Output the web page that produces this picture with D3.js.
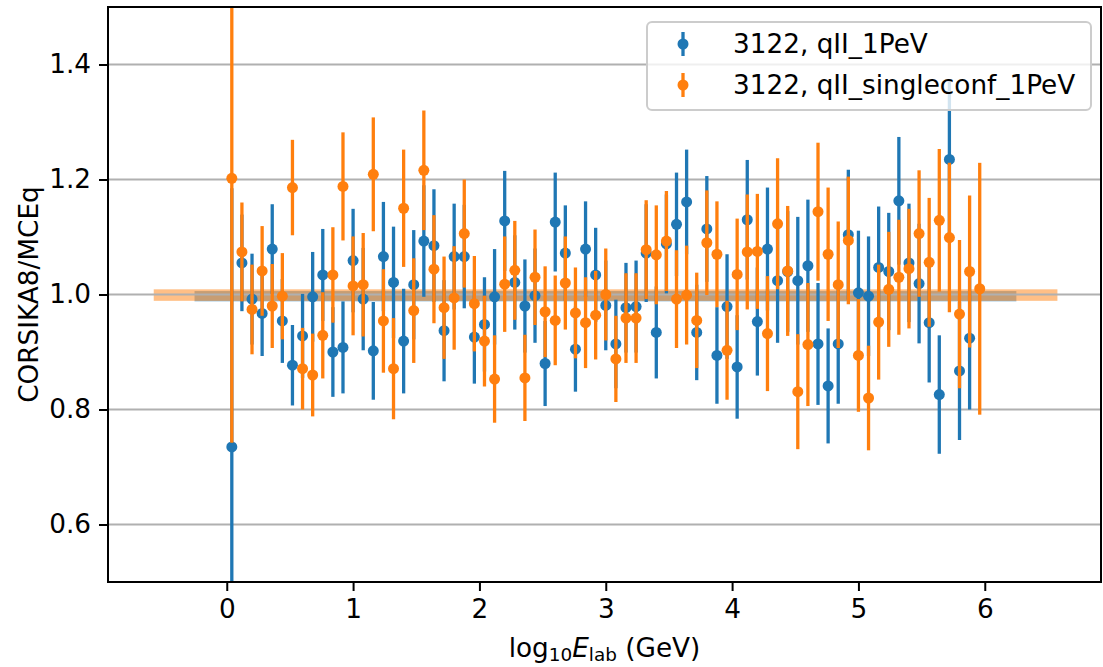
<!DOCTYPE html>
<html><head><meta charset="utf-8">
<script src="https://cdn.jsdelivr.net/npm/d3@7/dist/d3.min.js"></script>
<style>body{margin:0;background:#fff}svg text{font-family:"DejaVu Sans",sans-serif}</style>
</head><body><svg id="c" width="1103" height="667"></svg>
<script>
const xCenters = [0.04,0.12,0.20,0.28,0.36,0.44,0.52,0.60,0.68,0.76,0.84,0.92,1.00,1.08,1.16,1.24,1.32,1.40,1.48,1.56,1.64,1.72,1.80,1.88,1.96,2.04,2.12,2.20,2.28,2.36,2.44,2.52,2.60,2.68,2.76,2.84,2.92,3.00,3.08,3.16,3.24,3.32,3.40,3.48,3.56,3.64,3.72,3.80,3.88,3.96,4.04,4.12,4.20,4.28,4.36,4.44,4.52,4.60,4.68,4.76,4.84,4.92,5.00,5.08,5.16,5.24,5.32,5.40,5.48,5.56,5.64,5.72,5.80,5.88,5.96];
const blueVals = [0.735,1.055,0.992,0.967,1.079,0.954,0.877,0.928,0.996,1.034,0.900,0.908,1.059,0.992,0.902,1.066,1.021,0.919,1.017,1.093,1.085,0.937,1.066,1.066,0.926,0.948,0.996,1.128,1.021,0.980,0.998,0.880,1.126,1.072,0.905,1.079,1.034,0.981,0.914,0.977,0.979,1.072,0.934,1.088,1.122,1.161,0.934,1.114,0.894,0.979,0.874,1.130,0.953,1.079,1.024,1.040,1.024,1.050,0.914,0.841,0.914,1.104,1.003,0.997,1.047,1.040,1.163,1.055,1.019,0.951,0.826,1.235,0.867,0.924];
const blueErrs = [0.450,0.084,0.079,0.074,0.078,0.073,0.070,0.073,0.078,0.080,0.078,0.080,0.090,0.089,0.085,0.095,0.097,0.091,0.095,0.097,0.098,0.088,0.092,0.090,0.081,0.082,0.083,0.087,0.082,0.081,0.082,0.074,0.086,0.083,0.074,0.083,0.082,0.078,0.077,0.078,0.080,0.085,0.080,0.086,0.090,0.091,0.083,0.092,0.084,0.091,0.090,0.104,0.094,0.107,0.108,0.105,0.111,0.115,0.106,0.100,0.104,0.113,0.108,0.104,0.106,0.102,0.111,0.103,0.104,0.104,0.103,0.136,0.120,0.124];
const orangeVals = [1.202,1.074,0.974,1.041,0.980,0.997,1.186,0.871,0.860,0.929,1.034,1.188,1.015,1.017,1.209,0.954,0.871,1.150,0.972,1.216,1.044,0.977,0.994,1.106,0.984,0.919,0.853,1.018,1.042,0.855,1.030,0.970,0.955,1.020,0.968,0.951,0.964,1.000,0.888,0.959,0.959,1.078,1.069,1.093,0.992,0.999,0.955,1.090,1.070,0.903,1.035,1.074,1.075,0.932,1.123,1.041,0.831,0.913,1.144,1.070,1.017,1.094,0.894,0.820,0.952,1.009,1.030,1.045,1.106,1.056,1.129,1.099,0.966,1.040,1.010];
const orangeErrs = [0.460,0.086,0.078,0.078,0.073,0.075,0.083,0.071,0.072,0.075,0.083,0.094,0.086,0.090,0.099,0.090,0.088,0.102,0.091,0.104,0.094,0.089,0.090,0.094,0.083,0.079,0.076,0.083,0.086,0.075,0.083,0.079,0.078,0.081,0.079,0.079,0.077,0.080,0.075,0.078,0.078,0.086,0.086,0.087,0.085,0.086,0.083,0.091,0.092,0.086,0.097,0.100,0.100,0.100,0.114,0.113,0.100,0.107,0.120,0.116,0.110,0.111,0.098,0.091,0.100,0.100,0.100,0.104,0.110,0.112,0.124,0.130,0.129,0.132,0.219];
// reference bands: [xStart, xEnd, yLow, yHigh]
const blueBand = [-0.255, 6.25, 0.988, 1.006];
const orangeBand = [-0.578, 6.575, 0.989, 1.009];
const xTicks = [0,1,2,3,4,5,6];
const yTicks = [0.6,0.8,1.0,1.2,1.4];
const seriesNames = ["3122, qII_1PeV", "3122, qII_singleconf_1PeV"];
const colors = ["#1f77b4", "#ff7f0e"];

const L = 108, R = 1101, T = 7, B = 582;
const svg = d3.select("#c");
const x = d3.scaleLinear().domain([-0.94, 6.92]).range([L, R]);
const y = d3.scaleLinear().domain([0.5, 1.5]).range([B, T]);

svg.append("defs").append("clipPath").attr("id","clip")
  .append("rect").attr("x",L).attr("y",T).attr("width",R-L).attr("height",B-T);

const plot = svg.append("g").attr("clip-path","url(#clip)");
// bands
[[blueBand, colors[0]], [orangeBand, colors[1]]].forEach(([b, c]) => {
  plot.append("rect").attr("x", x(b[0])).attr("width", x(b[1]) - x(b[0]))
    .attr("y", y(b[3])).attr("height", y(b[2]) - y(b[3]))
    .attr("fill", c).attr("opacity", 0.5);
});
// grid
plot.selectAll(".grid").data(yTicks).join("line")
  .attr("x1", L).attr("x2", R).attr("y1", d => y(d)).attr("y2", d => y(d))
  .attr("stroke", "#b0b0b0").attr("stroke-width", 2);

function drawSeries(vals, errs, color) {
  const g = plot.append("g");
  const data = vals.map((v, i) => ({x: xCenters[i], v, e: errs[i]}));
  g.selectAll("line").data(data).join("line")
    .attr("x1", d => x(d.x)).attr("x2", d => x(d.x))
    .attr("y1", d => y(d.v - d.e)).attr("y2", d => y(d.v + d.e))
    .attr("stroke", color).attr("stroke-width", 3.3);
  g.selectAll("circle").data(data).join("circle")
    .attr("cx", d => x(d.x)).attr("cy", d => y(d.v)).attr("r", 5.5)
    .attr("fill", color);
}
drawSeries(blueVals, blueErrs, colors[0]);
drawSeries(orangeVals, orangeErrs, colors[1]);

// axes
const fs = 26.3;
const xAxis = svg.append("g").attr("transform", `translate(0,${B})`)
  .call(d3.axisBottom(x).tickValues(xTicks).tickSize(9).tickPadding(8).tickFormat(d3.format("d")));
const yAxis = svg.append("g").attr("transform", `translate(${L},0)`)
  .call(d3.axisLeft(y).tickValues(yTicks).tickSize(9).tickPadding(8).tickFormat(d3.format(".1f")));
[xAxis, yAxis].forEach(a => {
  a.select(".domain").remove();
  a.selectAll(".tick line").attr("stroke", "#000").attr("stroke-width", 2);
  a.selectAll(".tick text").attr("font-size", fs).attr("fill", "#000")
    .attr("font-family", '"DejaVu Sans", sans-serif');
});
// spines
svg.append("rect").attr("x", L).attr("y", T).attr("width", R - L).attr("height", B - T)
  .attr("fill", "none").attr("stroke", "#000").attr("stroke-width", 2);

// axis labels
const xl = svg.append("text").attr("x", (L + R) / 2).attr("y", 657)
  .attr("text-anchor", "middle").attr("font-size", fs).attr("fill", "#000");
xl.append("tspan").text("log");
xl.append("tspan").attr("font-size", fs * 0.7).attr("dy", 4).text("10");
xl.append("tspan").attr("font-style", "italic").attr("dy", -4).text("E");
xl.append("tspan").attr("font-size", fs * 0.7).attr("dy", 4).text("lab");
xl.append("tspan").attr("dy", -4).text(" (GeV)");

svg.append("text").attr("transform", `translate(38,${(T + B) / 2}) rotate(-90)`)
  .attr("text-anchor", "middle").attr("font-size", fs).attr("fill", "#000")
  .text("CORSIKA8/MCEq");

// legend
const lg = svg.append("g");
lg.append("rect").attr("x", 647).attr("y", 22).attr("width", 444).attr("height", 88)
  .attr("rx", 5).attr("fill", "#fff").attr("fill-opacity", 0.8)
  .attr("stroke", "#cccccc").attr("stroke-width", 2);
seriesNames.forEach((name, i) => {
  const cy = 44 + i * 41;
  lg.append("line").attr("x1", 683).attr("x2", 683).attr("y1", cy - 12).attr("y2", cy + 12)
    .attr("stroke", colors[i]).attr("stroke-width", 3.3);
  lg.append("circle").attr("cx", 683).attr("cy", cy).attr("r", 5.5).attr("fill", colors[i]);
  lg.append("text").attr("x", 733).attr("y", cy).attr("dy", "0.35em")
    .attr("font-size", fs).attr("fill", "#000").text(name);
});
</script></body></html>
